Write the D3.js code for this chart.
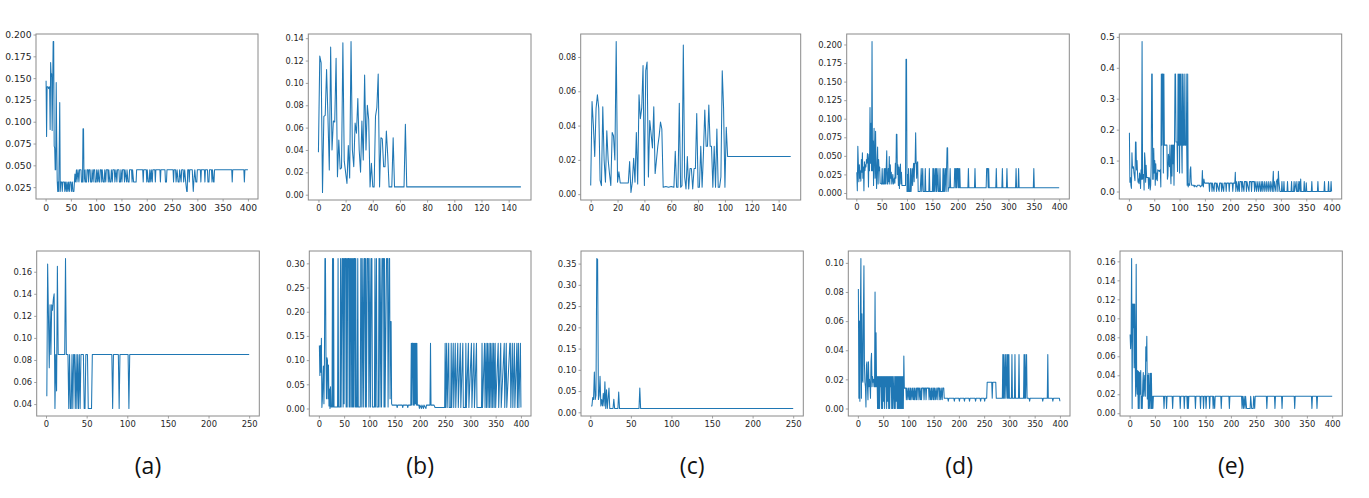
<!DOCTYPE html>
<html>
<head>
<meta charset="utf-8">
<script src="https://cdn.jsdelivr.net/npm/d3@7"></script>
<style>
  html, body { margin: 0; padding: 0; background: #fff; }
  svg { display: block; }
</style>
</head>
<body>
<div id="container"></div>
<script>
// ---------------------------------------------------------------- data
// each series is a list of [step, value] vertices

const aTop = [[1,.147],[2,.083],[3,.14],[5,.14],[6,.138],[8,.14],[9,.091],[10,.168],[11,.152],[12,.155],[13,.09],[15,.192],[16,.192],[17,.072],[18,.07],[19,.045],[20,.045],[21,.145],[22,.08],[23,.032],[24,.02],[25,.031],[26,.02],[28,.122],[29,.02],[30,.031],[32,.031],[33,.02],[34,.031],[37,.031],[38,.02],[39,.031],[41,.02],[42,.031],[44,.02],[45,.031],[47,.02],[48,.031],[50,.031],[51,.02],[53,.031],[54,.02],[56,.02],[57,.031],[58,.04],[59,.031],[61,.045],[62,.031],[64,.045],[66,.031],[67,.045],[70,.045],[71,.031],[73,.031],[74,.092],[75,.092],[76,.031],[78,.045],
  [79,.031],[81,.031],[82,.045],[84,.045],[85,.031],[86,.045],[88,.045],[89,.031],[91,.031],[92,.045],[94,.031],[95,.045],[97,.045],[98,.031],[100,.031],[101,.045],[103,.031],[104,.045],[106,.031],[107,.031],[108,.045],[110,.045],[111,.031],[112,.045],[114,.031],[116,.031],[117,.045],[119,.031],[120,.045],[123,.045],[124,.031],[125,.045],[127,.031],[129,.031],[130,.045],[132,.031],[133,.045],[136,.045],[137,.031],[139,.045],[141,.031],[142,.045],[145,.045],[146,.031],[148,.031],[149,.045],[151,.031],[152,.045],[155,.045],[156,.031],[157,.045],[160,.031],[161,.045],[163,.031],[165,.031],[166,.045],[170,.045],[171,.031],[172,.045],[174,.031],[179,.031],[180,.045],
  [192,.045],[193,.031],[194,.045],[199,.045],[200,.031],[201,.045],[203,.031],[205,.031],[206,.045],[208,.031],[209,.045],[211,.031],[212,.045],[216,.045],[217,.031],[218,.045],[226,.045],[227,.031],[228,.045],[236,.045],[237,.031],[239,.031],[240,.045],[252,.045],[253,.031],[254,.045],[257,.045],[258,.031],[260,.045],[262,.031],[264,.031],[265,.045],[268,.031],[269,.045],[272,.045],[273,.031],[275,.045],[277,.031],[279,.02],[280,.02],[281,.045],[283,.045],[284,.031],[285,.045],[290,.045],[291,.031],[292,.02],[293,.031],[295,.045],[297,.031],[299,.031],[300,.045],[306,.045],[307,.031],[308,.045],[314,.045],[315,.031],[316,.045],[320,.045],[321,.031],[323,.031],[324,.045],[328,.045],[329,.031],[330,.045],[332,.031],[333,.031],[334,.045],[368,.045],[369,.031],[370,.045],[392,.045],[393,.031],[394,.045],[400,.045]];

const bTop = [[0,.038],[1,.124],[2,.118],[3,.002],[4,.07],[5,.071],[6,.112],[7,.07],[8,.022],[9,.132],[10,.04],[11,.066],[12,.065],[13,.122],[14,.016],[15,.049],[16,.023],[17,.024],[18,.136],[19,.03],[20,.02],[21,.01],[22,.044],[23,.015],[24,.137],[25,.04],[26,.025],[27,.064],[28,.055],[29,.086],[30,.04],[31,.02],[32,.066],[33,.031],[34,.107],[35,.04],[36,.08],[37,.067],[38,.007],[39,.028],[40,.007],[41,.007],[42,.07],[43,.078],[44,.108],[45,.007],[46,.051],[47,.05],[48,.025],[49,.025],[50,.057],[51,.035],[52,.007],[54,.007],[55,.051],[56,.007],[63,.007],[64,.063],[65,.007],[149,.007]];

const cTop = [[0,.005],[1,.054],[2,.04],[3,.022],[4,.05],[5,.058],[6,.05],[7,.008],[8,.005],[9,.051],[10,.02],[11,.007],[12,.037],[13,.02],[14,.012],[15,.005],[16,.036],[17,.034],[18,.02],[19,.089],[20,.007],[21,.013],[22,.0065],[28,.0065],[29,.019],[30,.001],[31,.007],[32,.021],[33,.007],[34,.036],[35,.006],[36,.058],[37,.044],[38,.05],[39,.075],[40,.005],[41,.072],[42,.077],[43,.01],[44,.043],[45,.035],[46,.027],[47,.051],[48,.012],[49,.02],[50,.028],[51,.034],[52,.042],[53,.038],[54,.004],[56,.0045],[58,.004],[60,.0045],[62,.004],[63,.025],[64,.004],[65,.004],[66,.053],[67,.004],[68,.005],[69,.087],[70,.01],[71,.003],[72,.022],[73,.003],[74,.015],[75,.015],[76,.003],[77,.015],[78,.015],[79,.047],[80,.004],[81,.004],[82,.028],[83,.004],[84,.024],[85,.049],[86,.028],[87,.028],[88,.052],[89,.028],[90,.028],[91,.004],[92,.028],[93,.004],[94,.038],[95,.004],[96,.004],[97,.01],[98,.072],[99,.05],[100,.004],[101,.039],[102,.022],[149,.022]];

const dTop = [[1,.028],[2,.003],[3,.063],[4,.04],[5,.015],[6,.038],[7,.02],[8,.03],[9,.016],[10,.045],[11,.028],[12,.054],[13,.02],[14,.035],[15,.003],[16,.042],[17,.03],[18,.038],[19,.035],[20,.045],[21,.04],[22,.053],[23,.045],[24,.008],[25,.052],[26,.03],[27,.115],[28,.04],[29,.094],[30,.03],[31,.204],[32,.03],[33,.07],[34,.01],[35,.087],[36,.05],[37,.02],[38,.083],[39,.03],[40,.006],[41,.04],[42,.062],[43,.012],[44,.045],[45,.03],[46,.035],[47,.013],[48,.013],[50,.012],[51,.033],[52,.012],[54,.012],[55,.033],[56,.012],[57,.033],[58,.012],[60,.057],[61,.012],[62,.012],[63,.033],[64,.015],[65,.049],[66,.012],[67,.038],[68,.02],[69,.028],[70,.012],[72,.025],[73,.012],[75,.02],[76,.013],[77,.04],[78,.02],[79,.079],[80,.079],[81,.025],[82,.038],[83,.01],[84,.035],[85,.006],[86,.03],[87,.039],[88,.012],[89,.028],[90,.01],[97,.01],[98,.18],[99,.18],[100,.002],[101,.025],[102,.002],[103,.033],[104,.002],[106,.002],[107,.033],[108,.002],[110,.033],[111,.01],[112,.03],[113,.04],[114,.015],[115,.04],[116,.04],[117,.081],[118,.04],[119,.02],[120,.04],[121,.042],[122,.002],[126,.002],[128,.033],[129,.002],[131,.033],[132,.002],[135,.002],[136,.033],[137,.002],[143,.002],[144,.033],[145,.002],[150,.002],[151,.033],[152,.002],[153,.033],[154,.002],[156,.033],[157,.002],[158,.033],[159,.002],[161,.033],[162,.002],[164,.002],[165,.033],[166,.002],[170,.002],[171,.033],[172,.002],[173,.033],[174,.002],[176,.033],[177,.002],[178,.033],[179,.061],[180,.061],[181,.002],[182,.007],[184,.007],[185,.033],[186,.007],[193,.007],[194,.033],[195,.033],[196,.007],[197,.033],[198,.007],[199,.033],[200,.033],[201,.007],[202,.033],[203,.007],[204,.033],[205,.007],[220,.007],[221,.033],[222,.007],[233,.007],[234,.033],[235,.007],[256,.007],[257,.033],[259,.033],[260,.007],[261,.033],[262,.007],[275,.007],[276,.033],[277,.007],[287,.007],[288,.033],[289,.007],[296,.007],[297,.033],[298,.007],[314,.007],[315,.033],[316,.007],[319,.007],[320,.033],[321,.007],[349,.007],[350,.033],[351,.007],[400,.007]];

const eTop = [[1,.19],[2,.03],[3,.045],[4,.02],[5,.01],[6,.125],[7,.08],[8,.075],[9,.08],[10,.06],[12,.035],[13,.16],[14,.16],[15,.07],[16,.1],[17,.06],[18,.03],[19,.04],[20,.025],[21,.06],[22,.05],[23,.01],[24,.07],[25,.04],[26,.485],[27,.04],[28,.055],[29,.055],[30,.005],[31,.125],[32,.1],[33,.03],[34,.085],[35,.045],[38,.045],[39,.01],[40,.045],[41,.04],[42,.005],[43,.02],[44,.09],[45,.38],[46,.38],[47,.04],[48,.04],[49,.14],[50,.06],[51,.1],[52,.02],[53,.09],[54,.04],[55,.06],[56,.035],[57,.07],[60,.065],[62,.07],[63,.015],[64,.38],[65,.15],[66,.38],[67,.38],[68,.06],[69,.38],[70,.15],[75,.15],[76,.04],[77,.05],[78,.12],[79,.1],[80,.08],[81,.15],[82,.07],[83,.025],[84,.15],[85,.05],[86,.15],[87,.09],[88,.15],[89,.02],[90,.15],[91,.38],[92,.38],[93,.16],[95,.16],[96,.065],[97,.38],[98,.15],[99,.38],[100,.06],[101,.38],[102,.15],[103,.38],[104,.15],[105,.06],[106,.38],[107,.15],[108,.15],[109,.38],[110,.15],[112,.15],[113,.38],[114,.15],[115,.02],[116,.38],[117,.015],[118,.025],[119,.02],[120,.02],[121,.07],[122,.08],[123,.03],[124,.02],[128,.02],[129,.015],[130,.02],[134,.015],[135,.02],[140,.02],[141,.015],[144,.02],[145,.068],[146,.02],[147,.015],[148,.04],[149,.03],
  [150,.027],[158,.027],[159,0],[160,.027],[163,.027],[164,0],[165,.027],[168,0],[169,.027],[172,.027],[173,0],[174,.027],[178,0],[179,.027],[182,.027],[183,0],[184,.027],[187,0],[188,.027],[191,.027],[192,0],[193,.027],[197,.027],[198,0],[199,.027],[204,.027],[205,0],[206,.027],[209,.027],[210,.062],[211,0],[212,.032],[215,0],[216,.032],[218,0],[219,.032],[222,.032],[223,0],[224,.032],[227,0],[228,.032],[231,.032],[232,0],[233,.032],[237,0],[238,.032],[241,.032],[242,0],[243,.032],[247,.032],[248,0],[249,.032],[252,0],[253,.032],[256,0],[257,.032],[260,0],[261,.032],[263,0],[264,.032],[267,0],[268,.032],[271,0],[272,.032],[275,0],[276,.032],[279,0],[280,.032],[283,0],[284,.032],[285,.065],[286,0],[287,.032],[290,0],[291,.032],[293,.04],[294,0],[295,.065],[296,.032],[298,0],[301,0],[302,.032],[303,0],[305,0],[306,.032],[307,0],[312,0],[313,.032],[314,0],[320,0],[321,.032],[322,0],[325,0],[326,.032],[327,0],[330,.032],[331,0],[333,0],[334,.032],[335,0],[337,.032],[338,0],[339,.04],[340,0],[345,0],[346,.032],[347,0],[349,0],[350,.028],[351,0],[360,0],[361,.032],[362,0],[372,0],[373,.032],[374,0],[385,0],[386,.032],[387,0],[393,0],[394,.032],[395,0],[398,0],[399,.032],[400,0]];

const aBottom = [[1,.047],[2,.167],[3,.12],[4,.073],[5,.13],[6,.085],[7,.13],[8,.125],[9,.135],[10,.14],[11,.036],[12,.085],[13,.052],[14,.165],[15,.085],[23,.085],[24,.172],[25,.085],[27,.085],[28,.036],[29,.085],[30,.036],[31,.036],[32,.085],[33,.036],[34,.085],[35,.085],[36,.036],[37,.085],[38,.036],[39,.085],[40,.036],[41,.085],[42,.036],[43,.085],[46,.085],[47,.036],[48,.036],[49,.085],[51,.085],[52,.036],[56,.036],[57,.085],[81,.085],[82,.036],[83,.085],[89,.085],[90,.036],[91,.085],[101,.085],[102,.036],[103,.085],[250,.085]];

const bBottom = [[1,.13],[2,.068],[3,.13],[4,.075],[5,.145],[6,.002],[7,.02],[8,.06],[9,.088],[10,.01],[11,.09],[12,.31],[13,.31],[14,.115],[15,.02],[16,.105],[17,.1],[18,.02],[19,.09],[20,.005],[21,.04],[22,0],[23,.045],[24,.003],[26,.003],
  [27,.31],[28,.003],[29,.31],[30,.003],[37,.003],[38,.31],[39,.003],[42,.003],[43,.31],[44,.003],[46,.31],[47,.31],[48,.003],[49,.31],[50,.01],[51,.31],[53,.31],[54,.003],[55,.31],[56,.003],[57,.31],[59,.31],[60,.003],[61,.31],[62,.003],[63,.31],[64,.31],[65,.003],[66,.31],[67,.003],[68,.31],[69,.003],[70,.31],[71,.31],[72,.003],[73,.31],[74,.003],[76,.003],[77,.31],[78,.003],[82,.003],[83,.31],[84,.31],[85,.003],[87,.31],[88,.003],[90,.31],[91,.31],[92,.003],[93,.31],[94,.003],[96,.31],[98,.31],[99,.003],[101,.31],[102,.003],[104,.31],[105,.31],[106,.003],[110,.003],[111,.31],[112,.003],[114,.31],[115,.003],[118,.003],[119,.31],[120,.31],[121,.003],[123,.31],[124,.003],[126,.31],[128,.31],[129,.003],[130,.31],[131,.003],[134,.31],[136,.31],[137,.003],[139,.31],[140,.31],[141,.02],[142,.18],[143,.18],[144,.01],[145,.007],
  [154,.007],[155,.002],[156,.007],[165,.007],[166,.002],[167,.007],[175,.007],[176,.002],[177,.007],[182,.007],[183,.135],[184,.007],[185,.135],[186,.135],[187,.007],[188,.135],[189,.007],[190,.135],[191,.01],[192,.135],[193,.007],[194,.135],[195,.007],[198,.007],[199,0],[200,.007],[203,0],[204,.007],[207,0],[208,.007],[212,0],[213,.007],[220,.007],[221,.135],[222,.007],[228,.007],[230,.002],[249,.002],[250,.135],[251,.002],[253,.135],[254,.002],[257,.135],[258,.002],[261,.002],[262,.135],[263,.002],[266,.135],[267,.002],[270,.135],[271,.002],[275,.135],[276,.002],[280,.135],[281,.002],[285,.135],[286,.002],[290,.002],[291,.135],[292,.002],[296,.135],[297,.002],[302,.135],[303,.002],[307,.135],[308,.002],[312,.135],[313,.002],[322,.002],[323,.135],[324,.002],[328,.135],[329,.002],[331,.135],[332,.002],[334,.135],[335,.002],[337,.135],[338,.002],[340,.135],[341,.002],[343,.135],[344,.002],[346,.135],[347,.002],[349,.135],[350,.002],[355,.135],[356,.002],[360,.135],[361,.002],[367,.135],[368,.002],[371,.135],[372,.002],[378,.135],[379,.135],[380,.002],[383,.135],[384,.002],[387,.135],[388,.002],[392,.135],[393,.002],[395,.135],[396,.002],[399,.135],[400,.002]];

const cBottom = [[1,.015],[2,.015],[3,.035],[4,.03],[5,.095],[6,.03],[7,.04],[8,.362],[9,.36],[10,.03],[11,.04],[12,.085],[13,.015],[14,.03],[15,.015],[16,.045],[17,.015],[18,.072],[19,.009],[20,.053],[21,.009],[23,.057],[24,.009],[28,.009],[29,.031],[30,.009],[34,.009],[35,.048],[36,.009],[60,.009],[61,.057],[62,.009],[250,.009]];

const dBottom = [[1,.082],[2,.007],[3,.06],[4,.005],[5,.065],[6,.103],[7,.007],[8,.065],[9,.02],[10,.018],[11,.065],[12,.098],[13,.03],[14,.018],[15,.015],[16,.001],[17,.03],[18,.032],[19,.015],[20,.006],[21,.032],[22,.015],[23,.02],[24,.015],[25,.007],[26,.032],[27,.038],[28,.015],[29,.022],[30,.018],[31,.02],[32,.015],[33,.015],[34,.08],[35,.015],[36,.052],[37,.015],[38,.022],[39,0],[40,.022],[41,0],
  [42,.022],[43,0],[44,.022],[45,.015],[46,.022],[47,0],[48,.022],[49,0],[50,.022],[51,.005],[52,.022],[53,0],[54,.022],[55,.015],[56,.022],[57,0],[58,.022],[59,.005],[60,.022],[61,0],[62,.022],[63,0],[64,.022],[65,.015],[66,.022],[67,0],[68,.022],[69,0],[70,.022],[72,0],[73,.022],[74,0],[75,.022],[76,.005],[77,.022],[78,0],[79,.022],[80,0],[81,.022],[82,0],[83,.022],[84,0],[85,.022],[86,0],[87,.022],[88,0],[89,.022],[90,0],[91,.036],[92,.014],[95,.014],[96,.006],[97,.014],[99,.006],[100,.014],[102,.006],[103,.014],[104,.006],[105,.014],[107,.006],[108,.014],[110,.006],[111,.014],[112,.006],[113,.014],[115,.006],[116,.014],[117,.006],[118,.014],[120,.014],[121,.006],[122,.014],[124,.006],[125,.014],[126,.006],[127,.014],[130,.014],[131,.006],[132,.014],[134,.014],[135,.006],[136,.014],[140,.014],[141,.006],[142,.014],[144,.006],[145,.014],[146,.006],[147,.014],[149,.006],[150,.014],[151,.006],[152,.014],[154,.006],[155,.014],[157,.006],[158,.014],[160,.014],[161,.006],[162,.014],[164,.006],[165,.014],[167,.006],[168,.014],[170,.014],[171,.007],
  [178,.007],[179,.005],[180,.007],[190,.007],[191,.005],[192,.007],[200,.007],[201,.005],[202,.007],[210,.007],[211,.005],[212,.007],[220,.007],[221,.005],[222,.007],[232,.007],[233,.005],[234,.007],[242,.007],[243,.005],[244,.007],[250,.007],[251,.005],[252,.007],[255,.007],[256,.018],[265,.018],[266,.007],[267,.018],[273,.018],[274,.007],[286,.007],[287,.037],[288,.007],[289,.037],[290,.007],[292,.037],[293,.007],[295,.037],[296,.007],[297,.037],[298,.007],[299,.037],[300,.007],[304,.007],[305,.037],[306,.007],[310,.007],[311,.037],[312,.007],[318,.007],[319,.037],[320,.007],[328,.007],[329,.037],[330,.007],[331,.037],[332,.007],[334,.037],[335,.007],[339,.007],[340,.005],[341,.007],[365,.007],[366,.005],[367,.007],[375,.007],[376,.037],[377,.007],[385,.007],[386,.005],[387,.007],[399,.007],[400,.005]];

const eBottom = [[1,.083],[2,.068],[3,.083],[4,.163],[5,.005],[6,.115],[7,.09],[8,.115],[9,.048],[10,.115],[11,.06],[12,.018],[13,.157],[14,.03],[15,.02],[16,.045],[17,.005],[18,.044],[19,.005],[20,.043],[21,.02],[22,.045],[23,.005],[24,.018],[25,.005],[26,.03],[27,.043],[28,.018],[29,.03],[30,.04],[31,.018],[32,.07],[33,.055],[34,.081],[35,.015],[36,.04],[37,.005],[38,.042],[39,.005],[40,.018],[41,.042],[42,.005],[43,.042],[44,.005],[45,.018],[46,.005],[47,.018],
  [67,.018],[68,.005],[69,.018],[72,.018],[73,.005],[74,.018],[84,.018],[85,.005],[86,.018],[99,.018],[100,.005],[101,.018],[107,.018],[108,.005],[109,.018],[113,.018],[114,.005],[115,.018],[116,.005],[117,.018],[129,.018],[130,.005],[131,.018],[139,.018],[140,.005],[141,.018],[145,.018],[146,.005],[147,.018],[150,.018],[151,.005],[152,.018],[157,.018],[158,.005],[159,.018],[164,.018],[165,.005],[166,.018],[168,.005],[169,.018],[180,.018],[181,.005],[182,.018],[196,.018],[197,.005],[198,.018],[221,.018],[222,.005],[223,.018],[225,.005],[226,.018],[228,.005],[229,.018],[231,.005],[238,.005],[239,.018],[241,.005],[244,.005],[245,.018],[247,.005],[248,.018],[270,.018],[271,.005],[272,.018],[286,.018],[287,.005],[288,.018],[300,.018],[301,.005],[302,.018],[325,.018],[326,.005],[327,.018],[359,.018],[360,.005],[361,.018],[369,.018],[370,.005],[371,.018],[400,.018]];

// tick values
const xTicks400 = [0, 50, 100, 150, 200, 250, 300, 350, 400];
const xTicks250 = [0, 50, 100, 150, 200, 250];
const xTicks140 = [0, 20, 40, 60, 80, 100, 120, 140];

const yTicksATop = [0.025, 0.050, 0.075, 0.100, 0.125, 0.150, 0.175, 0.200];
const yTicksBTop = [0, 0.02, 0.04, 0.06, 0.08, 0.10, 0.12, 0.14];
const yTicksCTop = [0, 0.02, 0.04, 0.06, 0.08];
const yTicksDTop = [0, 0.025, 0.050, 0.075, 0.100, 0.125, 0.150, 0.175, 0.200];
const yTicksETop = [0, 0.1, 0.2, 0.3, 0.4, 0.5];
const yTicksABottom = [0.04, 0.06, 0.08, 0.10, 0.12, 0.14, 0.16];
const yTicksBBottom = [0, 0.05, 0.10, 0.15, 0.20, 0.25, 0.30];
const yTicksCBottom = [0, 0.05, 0.10, 0.15, 0.20, 0.25, 0.30, 0.35];
const yTicksDBottom = [0, 0.02, 0.04, 0.06, 0.08, 0.10];
const yTicksEBottom = [0, 0.02, 0.04, 0.06, 0.08, 0.10, 0.12, 0.14, 0.16];

const captions = ["(a)", "(b)", "(c)", "(d)", "(e)"];

(function(){

    const width = 1369;
    const height = 498;
    const lineColor = "#1f77b4";
    const frameColor = "#8a8a8a";
    const textColor = "#262626";

    // frame boxes [left, top, right, bottom] of the ten axes
    const panels = [
        {data: aTop,    yTicks: yTicksATop,    fmt: ".3f", xTicks: xTicks400, box: [36, 34, 258, 199],       font: 9.2},
        {data: bTop,    yTicks: yTicksBTop,    fmt: ".2f", xTicks: xTicks140, box: [308.3, 34, 531, 200],    font: 8.2},
        {data: cTop,    yTicks: yTicksCTop,    fmt: ".2f", xTicks: xTicks140, box: [580.7, 34, 800.7, 200],  font: 8},
        {data: dTop,    yTicks: yTicksDTop,    fmt: ".3f", xTicks: xTicks400, box: [846.7, 34, 1069.3, 199], font: 8.4},
        {data: eTop,    yTicks: yTicksETop,    fmt: ".1f", xTicks: xTicks400, box: [1119.3, 34, 1341.7, 199],font: 9.2},
        {data: aBottom, yTicks: yTicksABottom, fmt: ".2f", xTicks: xTicks250, box: [36.7, 251, 259.3, 416],  font: 8.4},
        {data: bBottom, yTicks: yTicksBBottom, fmt: ".2f", xTicks: xTicks400, box: [309.3, 251, 531, 416],   font: 8.4},
        {data: cBottom, yTicks: yTicksCBottom, fmt: ".2f", xTicks: xTicks250, box: [581, 251, 803.3, 416],   font: 8.4},
        {data: dBottom, yTicks: yTicksDBottom, fmt: ".2f", xTicks: xTicks400, box: [848.3, 251, 1070, 416],  font: 8.4},
        {data: eBottom, yTicks: yTicksEBottom, fmt: ".2f", xTicks: xTicks400, box: [1120, 251, 1342.3, 416], font: 8.4}
    ];

    const svg = d3.select("#container")
        .append("svg")
        .attr("width", width)
        .attr("height", height);

    svg.append("rect")
        .attr("width", width)
        .attr("height", height)
        .attr("fill", "#fff");

    panels.forEach(drawPanel);
    drawCaptions();

    // ======================================================================
    // ============================================================== HELPERS
    // ======================================================================
    function padded(extent) {
        // matplotlib default: 5% margin on each side
        const span = extent[1] - extent[0];
        return [extent[0] - 0.05 * span, extent[1] + 0.05 * span];
    }

    function drawPanel(p, i) {
        const [x0, y0, x1, y1] = p.box;

        const x = d3.scaleLinear()
            .domain(padded(d3.extent(p.data, d => d[0])))
            .range([x0, x1]);
        const y = d3.scaleLinear()
            .domain(padded(d3.extent(p.data, d => d[1])))
            .range([y1, y0]);

        const g = svg.append("g");

        const clipId = "panel-clip-" + i;
        g.append("clipPath")
            .attr("id", clipId)
            .append("rect")
            .attr("x", x0).attr("y", y0)
            .attr("width", x1 - x0).attr("height", y1 - y0);

        const line = d3.line()
            .x(d => x(d[0]))
            .y(d => y(d[1]));

        g.append("path")
            .datum(p.data)
            .attr("clip-path", `url(#${clipId})`)
            .attr("fill", "none")
            .attr("stroke", lineColor)
            .attr("stroke-width", 1.05)
            .attr("stroke-linejoin", "round")
            .attr("d", line);

        const xAxis = d3.axisBottom(x)
            .tickValues(p.xTicks)
            .tickFormat(d3.format("d"))
            .tickSizeOuter(0)
            .tickSize(2.5)
            .tickPadding(2.5);

        const yAxis = d3.axisLeft(y)
            .tickValues(p.yTicks)
            .tickFormat(d3.format(p.fmt))
            .tickSizeOuter(0)
            .tickSize(2.5)
            .tickPadding(2);

        [[xAxis, `translate(0,${y1})`], [yAxis, `translate(${x0},0)`]].forEach(([ax, tr]) => {
            const a = g.append("g")
                .attr("transform", tr)
                .call(ax);
            a.select(".domain").remove();
            a.selectAll(".tick line").attr("stroke", frameColor).attr("stroke-width", 0.8);
            a.selectAll(".tick text")
                .attr("fill", textColor)
                .style("font-family", "'DejaVu Sans', sans-serif")
                .style("font-size", p.font + "px");
        });

        g.append("rect")
            .attr("x", x0).attr("y", y0)
            .attr("width", x1 - x0).attr("height", y1 - y0)
            .attr("fill", "none")
            .attr("stroke", frameColor)
            .attr("stroke-width", 1);
    }

    function drawCaptions() {
        const bottomRow = panels.slice(5);
        svg.append("g")
            .selectAll("text")
            .data(captions)
            .join("text")
            .attr("x", (d, i) => (bottomRow[i].box[0] + bottomRow[i].box[2]) / 2)
            .attr("y", 474)
            .attr("text-anchor", "middle")
            .attr("fill", "#111")
            .style("font-family", "'Open Sans', sans-serif")
            .style("font-size", "23px")
            .text(d => d);
    }

})();
</script>
</body>
</html>
